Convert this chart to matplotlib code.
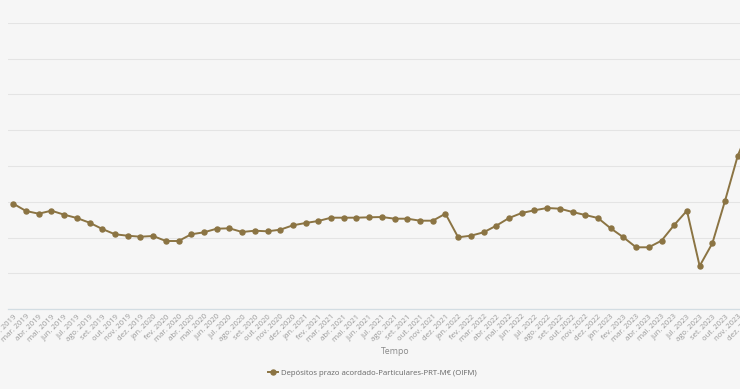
import matplotlib
matplotlib.use("Agg")
import matplotlib.pyplot as plt

plt.rcParams['font.family'] = ['Open Sans', 'DejaVu Sans']

months_pt = ['jan.', 'fev.', 'mar.', 'abr.', 'mai.', 'jun.', 'jul.', 'ago.', 'set.', 'out.', 'nov.', 'dez.']
# fev. 2019 .. dez. 2023
labels = []
for yr in range(2019, 2024):
    for m in range(12):
        if yr == 2019 and m == 0:
            continue
        labels.append(f"{months_pt[m]} {yr}")

values = [29450, 27410, 26660, 27500, 26380, 25450, 24140, 22380, 20900, 20500, 20220,
          20420, 19020, 19020, 20900, 21450, 22460, 22570, 21540, 21900, 21730, 22180, 23410,
          24060, 24620, 25540, 25540, 25540, 25650, 25730, 25260, 25260, 24700, 24700, 26660,
          20060, 20500, 21450, 23300, 25450, 26850, 27610, 28250, 28060, 27130, 26290, 25450,
          22570, 20060, 17260, 17260, 19110, 23500, 27500, 12030, 18380, 30290, 42880, 51470]

series_name = "Depósitos prazo acordado-Particulares-PRT-M€ (OIFM)"
x_title = "Tempo"

W, H = 740, 389
fig = plt.figure(figsize=(W / 100, H / 100), dpi=100)
bg = '#f6f6f6'
fig.patch.set_facecolor(bg)

left_px, right_px, top_px, bottom_px = 8, 780, 23, 309
ax = fig.add_axes([left_px / W, 1 - bottom_px / H, (right_px - left_px) / W, (bottom_px - top_px) / H])
ax.set_facecolor(bg)

color = '#8b7443'
xs = list(range(len(values)))
line, = ax.plot(xs, values, color=color, lw=1.4, marker='o', ms=3.6, mec=color, mfc=color,
                label=series_name, zorder=3, clip_on=True)

spacing = 12.71
x0 = 13.3
ax.set_xlim(-(x0 - left_px) / spacing, (right_px - x0) / spacing)
ax.set_ylim(0, 80000)
ax.set_yticks(range(0, 80001, 10000))
ax.set_yticklabels([])
ax.grid(axis='y', color='#e4e4e4', lw=0.8)
ax.set_axisbelow(True)
ax.tick_params(axis='y', length=0)
ax.set_xticks(xs)
ax.set_xticklabels(labels, rotation=45, ha='right', va='top', rotation_mode='anchor',
                   fontsize=5.6, color='#9a9a9a')
ax.tick_params(axis='x', length=0, pad=3)
for s in ['top', 'right', 'left']:
    ax.spines[s].set_visible(False)
ax.spines['bottom'].set_color('#d3dde3')
ax.spines['bottom'].set_linewidth(0.9)

fig.text(395 / W, 1 - 351 / H, x_title, ha='center', va='center', fontsize=6.3, color='#8a8a8a')

fig.legend(handles=[line], loc='center', bbox_to_anchor=(372 / W, 1 - 373 / H), frameon=False,
           fontsize=5.6, handlelength=1.3, handletextpad=0.4, labelcolor='#666666')

fig.savefig('out.png', dpi=100, facecolor=bg)
